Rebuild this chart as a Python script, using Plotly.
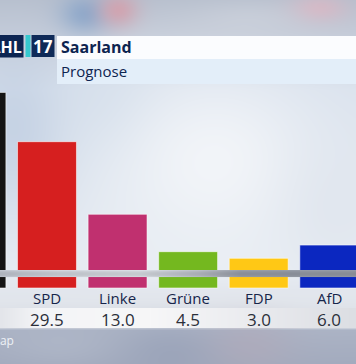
import base64, struct, zlib
import numpy as np
import plotly.graph_objects as go

# ---------------- data ----------------
PARTIES = ["CDU", "SPD", "Linke", "Grüne", "FDP", "AfD"]
VALUES = [40.7, 29.5, 13.0, 4.5, 3.0, 6.0]
COLORS = ["#141414", "#d61f1f", "#c0306f", "#74b81f", "#ffc815", "#0b27c0"]
TITLE = "Saarland"
SUBTITLE = "Prognose"
ELECTION_TAG = "WAHL"
YEAR_TAG = "17"
SOURCE = "Infratest dimap"

# ---------------- geometry / style ----------------
W, H = 356, 364
BASE_DEPTH = 3.75            # bars extend below the zero strip
Y_RANGE = [-21.02, 61.70]
X_RANGE = [0.334, 5.379]
FONT = "Open Sans"
NAVY = "#0d2450"


def py(p):
    """pixel row -> paper y"""
    return 1 - p / H


def px(p):
    """pixel col -> paper x"""
    return p / W


def hexrgb(h):
    return np.array([int(h[i:i + 2], 16) for i in (1, 3, 5)], float)


def png_uri(arr):
    arr = np.clip(arr, 0, 255).astype(np.uint8)
    h, w, _ = arr.shape
    raw = b"".join(b"\x00" + arr[r].tobytes() for r in range(h))

    def chunk(tag, data):
        c = struct.pack(">I", len(data)) + tag + data
        return c + struct.pack(">I", zlib.crc32(tag + data) & 0xFFFFFFFF)

    png = (b"\x89PNG\r\n\x1a\n"
           + chunk(b"IHDR", struct.pack(">IIBBBBB", w, h, 8, 2, 0, 0, 0))
           + chunk(b"IDAT", zlib.compress(raw, 9))
           + chunk(b"IEND", b""))
    return "data:image/png;base64," + base64.b64encode(png).decode()


# ---------------- blurred studio background ----------------
yy, xx = np.mgrid[0:H, 0:W].astype(float)
keys_y = [0, 30, 90, 270, 288, 300, 327, 330, 364]
keys_c = ["#b8c0ce", "#c3cad7", "#dbe3ee", "#e8edf3", "#e3e7ee", "#e2e6ec",
          "#d9dce3", "#aab2c4", "#a3abbe"]
kc = np.array([hexrgb(c) for c in keys_c])
img = np.zeros((H, W, 3))
for ch in range(3):
    img[:, :, ch] = np.interp(yy, keys_y, kc[:, ch])

blobs = [
    (85, 14, 18, 14, "#86a3c8", 0.85),
    (118, 10, 14, 12, "#d49fab", 0.85),
    (318, 8, 20, 10, "#dcb5c2", 0.75),
    (250, 18, 40, 12, "#cdd2dc", 0.5),
    (15, 130, 40, 60, "#bccbe0", 0.7),
    (110, 105, 35, 35, "#cfdbe9", 0.5),
    (215, 160, 70, 60, "#f5f7fa", 0.85),
    (330, 210, 40, 50, "#dde3ec", 0.5),
    (170, 352, 40, 20, "#96a0b7", 0.6),
    (250, 345, 30, 20, "#b3a9b8", 0.5),
    (60, 345, 40, 15, "#b3bbcb", 0.5),
]
for cx, cy, sx, sy, col, s in blobs:
    w = s * np.exp(-((xx - cx) ** 2 / (2 * sx ** 2) + (yy - cy) ** 2 / (2 * sy ** 2)))
    w = w[:, :, None]
    img = img * (1 - w) + hexrgb(col) * w

# keep the lower band sharp
low = yy >= 329
img[low] = np.minimum(img[low], hexrgb("#b4bccc"))

# value band (white strip under labels)
band_keys_x = [0, 40, 150, 260, 356]
band_keys_c = ["#e3e5ea", "#f4f5f7", "#f7f7f8", "#e9eaee", "#dcdee3"]
bk = np.array([hexrgb(c) for c in band_keys_c])
band = np.zeros((W, 3))
for ch in range(3):
    band[:, ch] = np.interp(np.arange(W), band_keys_x, bk[:, ch])
img[308:328, :, :] = band[None, :, :]
bg_uri = png_uri(img)

# gray strip across the bars (drawn above them)
strip_keys_x = [0, 60, 140, 200, 240, 356]
strip_keys_c = ["#b3b8c2", "#c4c8cf", "#cbcfd5", "#adb1b9", "#8e939d", "#8b909a"]
sk = np.array([hexrgb(c) for c in strip_keys_c])
strip = np.zeros((8, W, 3))
prof = np.array([1.08, 1.03, 1.0, 0.98, 0.97, 0.98, 1.0, 1.04])
for ch in range(3):
    strip[:, :, ch] = np.interp(np.arange(W), strip_keys_x, sk[:, ch])[None, :] * prof[:, None]
strip_uri = png_uri(strip)

# ---------------- figure ----------------
fig = go.Figure()
fig.add_trace(go.Bar(
    x=PARTIES,
    y=[v + BASE_DEPTH for v in VALUES],
    base=[-BASE_DEPTH] * len(VALUES),
    marker=dict(color=COLORS, line=dict(color="rgba(255,255,255,0.55)", width=1)),
    width=0.835,
    hoverinfo="skip",
))

images = [
    dict(source=bg_uri, xref="paper", yref="paper", x=0, y=1, sizex=1, sizey=1,
         sizing="stretch", layer="below", xanchor="left", yanchor="top"),
    dict(source=strip_uri, xref="paper", yref="y", x=0, y=0.34, sizex=1, sizey=1.6,
         sizing="stretch", layer="above", xanchor="left", yanchor="top"),
]


def rect(x0, x1, y0, y1, color):
    return dict(type="rect", xref="paper", yref="paper", x0=px(x0), x1=px(x1),
                y0=py(y1), y1=py(y0), fillcolor=color, line=dict(width=0), layer="above")


shapes = [
    rect(0, 23.5, 35, 57.5, "#0c2552"),
    rect(25.5, 30.5, 35, 57, "#36c9cf"),
    rect(31.5, 54.5, 35, 57, "#0f2a58"),
    rect(57, 356, 36, 59, "#fbfcfe"),
    rect(57, 356, 59, 84, "#e3eef9"),
]

ann = []


def text(x, y, s, size, color, bold=False, xanchor="center", xref="paper"):
    ann.append(dict(
        x=x, y=y, xref=xref, yref="paper", text=f"<b>{s}</b>" if bold else s,
        showarrow=False, xanchor=xanchor, yanchor="middle", borderpad=0,
        font=dict(family=FONT, size=size, color=color),
    ))


text(px(22.5), py(46.5), ELECTION_TAG, 16, "white", bold=True, xanchor="right")
text(px(43), py(46), YEAR_TAG, 17, "white", bold=True)
text(px(60), py(47), TITLE, 16, NAVY, bold=True, xanchor="left")
text(px(60), py(71.5), SUBTITLE, 15, NAVY, xanchor="left")
for p, v in zip(PARTIES, VALUES):
    text(p, py(298), p, 15, "#16254a", xref="x")
    text(p, py(319), f"{v:.1f}", 17, "#2b2f3a", xref="x")
text(px(15), py(340), SOURCE, 12, "#eef1f6", xanchor="right")

fig.update_layout(
    width=W, height=H,
    margin=dict(l=0, r=0, t=0, b=0, pad=0),
    paper_bgcolor="#d6dde7",
    plot_bgcolor="rgba(0,0,0,0)",
    showlegend=False,
    bargap=0.16,
    xaxis=dict(range=X_RANGE, visible=False, fixedrange=True),
    yaxis=dict(range=Y_RANGE, visible=False, fixedrange=True),
    images=images,
    shapes=shapes,
    annotations=ann,
)

fig.write_html("out.html", config={"displayModeBar": False},
               post_script="document.body.style.margin='0';")
